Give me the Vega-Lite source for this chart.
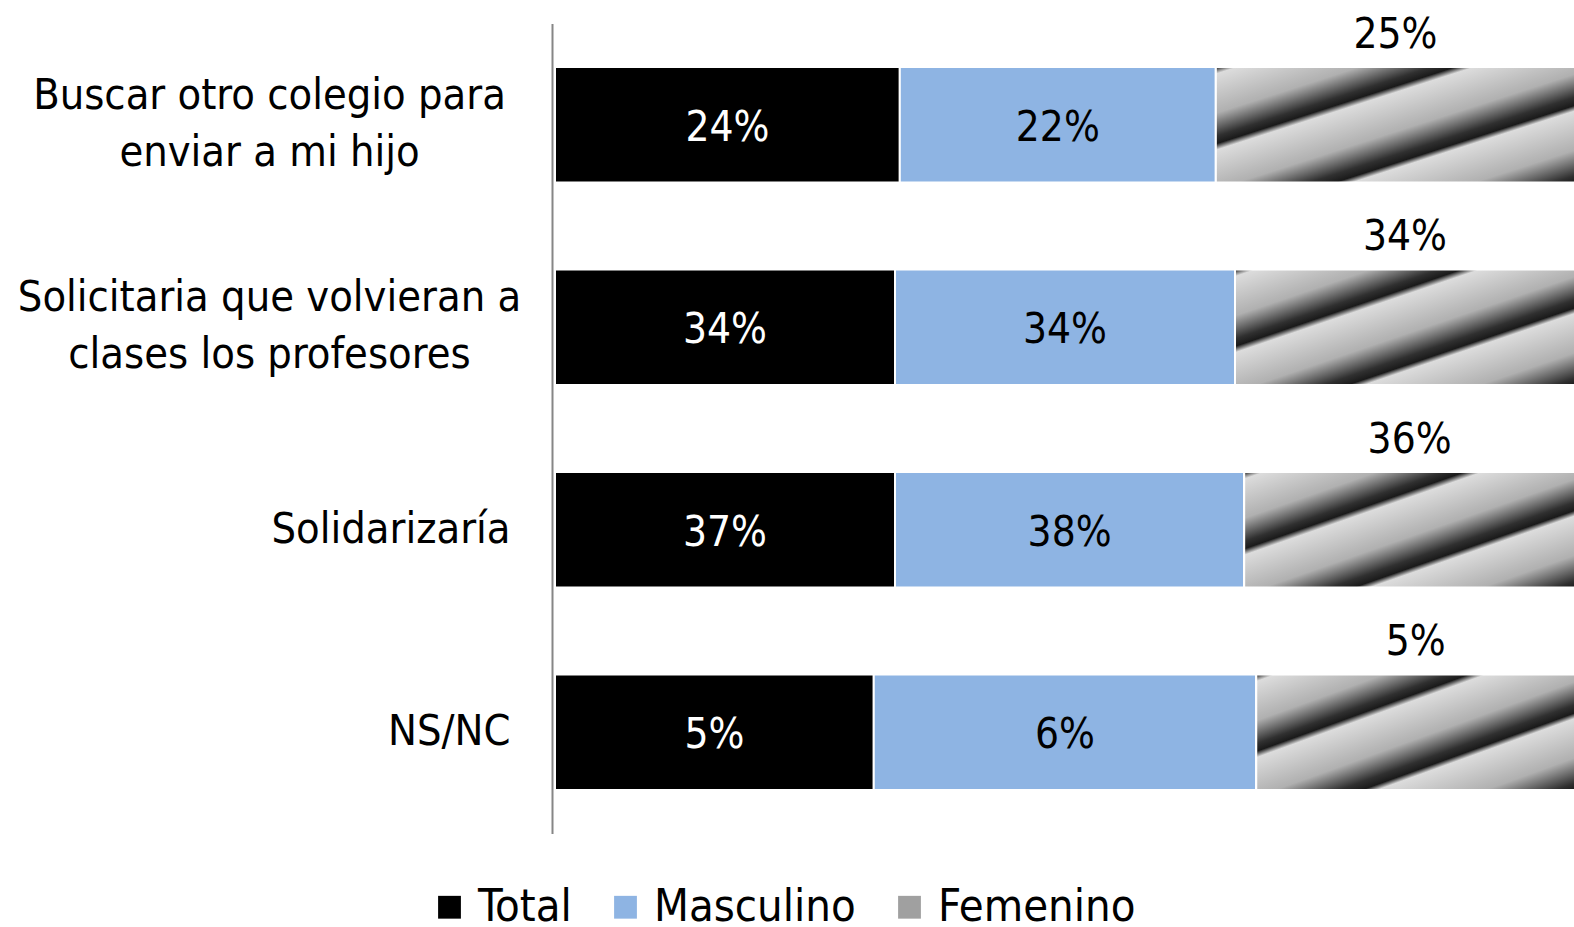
{
  "$schema": "https://vega.github.io/schema/vega-lite/v6.json",
  "width": 1020,
  "height": 810,
  "autosize": {"type": "none"},
  "padding": {"left": 555, "top": 23.5, "right": 0, "bottom": 94},
  "config": {"view": {"stroke": null}, "font": "Liberation Sans Narrow, DejaVu Sans Condensed, sans-serif"},
  "data": {
    "values": [
      {"cat": "Buscar otro colegio para enviar a mi hijo", "serie": "Total", "order": 1, "value": 0.24},
      {"cat": "Buscar otro colegio para enviar a mi hijo", "serie": "Masculino", "order": 2, "value": 0.22},
      {"cat": "Buscar otro colegio para enviar a mi hijo", "serie": "Femenino", "order": 3, "value": 0.25},
      {"cat": "Solicitaria que volvieran a clases los profesores", "serie": "Total", "order": 1, "value": 0.34},
      {"cat": "Solicitaria que volvieran a clases los profesores", "serie": "Masculino", "order": 2, "value": 0.34},
      {"cat": "Solicitaria que volvieran a clases los profesores", "serie": "Femenino", "order": 3, "value": 0.34},
      {"cat": "Solidarizaría", "serie": "Total", "order": 1, "value": 0.37},
      {"cat": "Solidarizaría", "serie": "Masculino", "order": 2, "value": 0.38},
      {"cat": "Solidarizaría", "serie": "Femenino", "order": 3, "value": 0.36},
      {"cat": "NS/NC", "serie": "Total", "order": 1, "value": 0.05},
      {"cat": "NS/NC", "serie": "Masculino", "order": 2, "value": 0.06},
      {"cat": "NS/NC", "serie": "Femenino", "order": 3, "value": 0.05}
    ]
  },
  "transform": [
    {"stack": "value", "groupby": ["cat"], "sort": [{"field": "order", "order": "ascending"}], "offset": "normalize", "as": ["v0", "v1"]},
    {"calculate": "(datum.v0 + datum.v1) / 2", "as": "mid"}
  ],
  "encoding": {
    "y": {
      "field": "cat",
      "type": "nominal",
      "sort": ["Buscar otro colegio para enviar a mi hijo", "Solicitaria que volvieran a clases los profesores", "Solidarizaría", "NS/NC"],
      "scale": {"paddingInner": 0.43, "paddingOuter": 0.215},
      "axis": {
        "title": null,
        "ticks": false,
        "offset": 3,
        "domainColor": "#868686",
        "domainWidth": 2,
        "labelFontSize": 43,
        "labelColor": "black",
        "labelLimit": 0,
        "labelLineHeight": 57,
        "labelBaseline": {"condition": {"test": "length(datum.value) > 20", "value": "line-bottom"}, "value": "middle"},
        "labelAlign": {"condition": {"test": "length(datum.value) > 20", "value": "center"}, "value": "right"},
        "labelPadding": {"condition": {"test": "length(datum.value) > 20", "value": 283}, "value": 42},
        "labelExpr": "datum.value == 'Buscar otro colegio para enviar a mi hijo' ? ['Buscar otro colegio para', 'enviar a mi hijo'] : datum.value == 'Solicitaria que volvieran a clases los profesores' ? ['Solicitaria que volvieran a', 'clases los profesores'] : datum.value"
      }
    }
  },
  "layer": [
    {
      "mark": {"type": "bar", "stroke": "white", "strokeWidth": 2},
      "encoding": {
        "x": {"field": "v0", "type": "quantitative", "scale": {"domain": [0, 1], "nice": false}, "axis": null},
        "x2": {"field": "v1"},
        "color": {
          "field": "serie",
          "type": "nominal",
          "scale": {
            "domain": ["Total", "Masculino", "Femenino"],
            "range": ["#000000", "#8EB4E3", "#a0a0a0"]
          },
          "legend": {
            "title": null,
            "orient": "none",
            "legendX": -128,
            "legendY": 861,
            "direction": "horizontal",
            "symbolType": "square",
            "symbolSize": 520,
            "symbolStrokeWidth": 0,
            "symbolOpacity": 1,
            "labelFontSize": 45,
            "labelColor": "black",
            "labelOffset": 6,
            "columnPadding": 31,
            "labelLimit": 0
          }
        }
      }
    },
    {
      "transform": [{"filter": "datum.serie == 'Femenino'"}],
      "mark": {
        "type": "bar",
        "stroke": "white",
        "strokeWidth": 2,
        "color": {"gradient": "linear", "x1": 0, "y1": 0, "x2": 1, "y2": 1, "stops": [
          {"offset": 0, "color": "#1a1a1a"},
          {"offset": 0.03, "color": "#dcdcdc"},
          {"offset": 0.2, "color": "#b0b0b0"},
          {"offset": 0.3, "color": "#303030"},
          {"offset": 0.333, "color": "#1a1a1a"},
          {"offset": 0.36, "color": "#dcdcdc"},
          {"offset": 0.53, "color": "#b0b0b0"},
          {"offset": 0.63, "color": "#303030"},
          {"offset": 0.666, "color": "#1a1a1a"},
          {"offset": 0.69, "color": "#dcdcdc"},
          {"offset": 0.86, "color": "#b0b0b0"},
          {"offset": 0.97, "color": "#303030"},
          {"offset": 1, "color": "#1a1a1a"}
        ]}
      },
      "encoding": {
        "x": {"field": "v0", "type": "quantitative"},
        "x2": {"field": "v1"}
      }
    },
    {
      "transform": [{"filter": "datum.serie != 'Femenino'"}],
      "mark": {"type": "text", "fontSize": 42, "baseline": "middle", "align": "center", "dy": 3},
      "encoding": {
        "x": {"field": "mid", "type": "quantitative"},
        "text": {"field": "value", "type": "quantitative", "format": ".0%"},
        "color": {"condition": {"test": "datum.serie == 'Total'", "value": "white"}, "value": "black"}
      }
    },
    {
      "transform": [{"filter": "datum.serie == 'Femenino'"}],
      "mark": {"type": "text", "fontSize": 42, "baseline": "middle", "align": "center", "dy": -90, "color": "black"},
      "encoding": {
        "x": {"field": "mid", "type": "quantitative"},
        "text": {"field": "value", "type": "quantitative", "format": ".0%"}
      }
    }
  ]
}
